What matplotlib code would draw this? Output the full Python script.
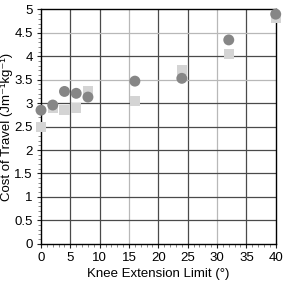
import matplotlib
matplotlib.use('Agg')
import matplotlib.pyplot as plt
from matplotlib.ticker import MultipleLocator, FuncFormatter

plt.rcParams['font.family'] = ['Liberation Sans', 'DejaVu Sans']

# 数据
knee_limit = [0, 2, 4, 6, 8, 16, 24, 32, 40]
cot_circle = [2.85, 2.96, 3.25, 3.21, 3.13, 3.47, 3.53, 4.35, 4.90]
cot_square = [2.49, 2.90, 2.85, 2.89, 3.25, 3.05, 3.71, 4.05, 4.82]

x_grid = [5, 10, 15, 20, 25, 30, 35]
y_grid = [0.5, 1, 1.5, 2, 2.5, 3, 3.5, 4, 4.5]
light_x = [15, 30]
light_y = [3.5, 4.5]

fig = plt.figure(figsize=(2.9, 2.91), dpi=100)
ax = fig.add_axes([0.1414, 0.1625, 0.8093, 0.805])

# 网格线
for gx in x_grid:
    ax.axvline(gx, color='#b8b8b8' if gx in light_x else '#4a4a4a', lw=0.9, zorder=1)
for gy in y_grid:
    ax.axhline(gy, color='#b8b8b8' if gy in light_y else '#4a4a4a', lw=0.9, zorder=1)

ax.scatter(knee_limit, cot_square, marker='s', s=55, color='#d4d4d4',
           edgecolors='none', zorder=3, clip_on=False)
ax.scatter(knee_limit, cot_circle, marker='o', s=62, color='#868686',
           edgecolors='none', zorder=4, clip_on=False)

ax.set_xlim(0, 40)
ax.set_ylim(0, 5)
ax.xaxis.set_major_locator(MultipleLocator(5))
ax.xaxis.set_minor_locator(MultipleLocator(1))
ax.yaxis.set_major_locator(MultipleLocator(0.5))
ax.yaxis.set_minor_locator(MultipleLocator(0.1))
ax.yaxis.set_major_formatter(FuncFormatter(lambda v, p: f'{v:g}'))

ax.tick_params(which='major', direction='out', length=3, width=0.8,
               labelsize=9.5, pad=3, color='#222222')
ax.tick_params(which='minor', direction='out', length=2, width=0.6,
               color='#777777')

for sp in ax.spines.values():
    sp.set_color('black')
    sp.set_linewidth(1.0)

ax.set_xlabel('Knee Extension Limit (°)', fontsize=9.5, labelpad=3)
fig.text(0.003, 0.1625 + 0.805 / 2, 'Cost of Travel (Jm⁻¹kg⁻¹)',
         rotation=90, ha='left', va='center', fontsize=9.5)

plt.savefig('out.png', dpi=100, facecolor='white')
plt.close()
